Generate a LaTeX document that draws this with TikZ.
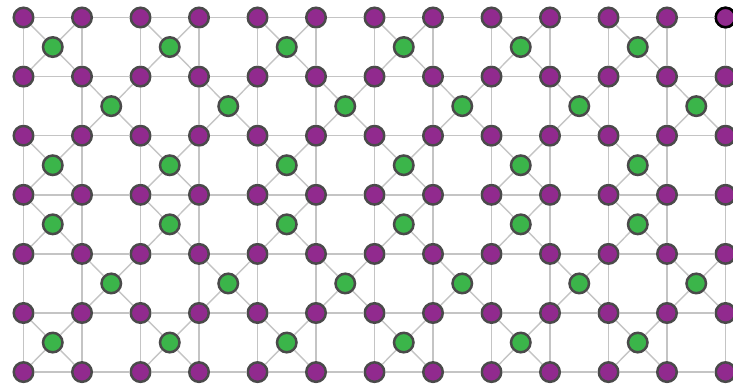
\documentclass[tikz,border=0pt]{standalone}
\definecolor{purp}{HTML}{912A8E}
\definecolor{grn}{HTML}{3BB54A}
\definecolor{nborder}{HTML}{4A4A4A}
\definecolor{edgegray}{HTML}{C4C4C4}
\begin{document}
\begin{tikzpicture}[x=1pt,y=1pt,
  pnode/.style={circle,draw=nborder,line width=2.5pt,fill=purp,minimum size=19.5pt,inner sep=0pt},
  gnode/.style={circle,draw=nborder,line width=2.5pt,fill=grn,minimum size=19.5pt,inner sep=0pt},
  link/.style={draw=edgegray,line width=1.4pt}]
\useasboundingbox (0,0) rectangle (733,-386);
% purple lattice
\foreach \i in {0,...,12} {
  \foreach \j in {0,...,6} {
    \node[pnode] (p-\i-\j) at ({23.5+58.5*\i},{-17.5-59.1*\j}) {};
  }
}
\node[pnode,draw=black] at (p-12-0) {};
% grid edges
\foreach \i in {0,...,11} {
  \foreach \j in {0,...,6} {
    \pgfmathtruncatemacro{\ni}{\i+1}
    \draw[link] (p-\i-\j) -- (p-\ni-\j);
  }
}
\foreach \i in {0,...,12} {
  \foreach \j in {0,...,5} {
    \pgfmathtruncatemacro{\nj}{\j+1}
    \draw[link] (p-\i-\j) -- (p-\i-\nj);
  }
}
% green nodes, even columns
\foreach \j in {0,2,3,5} {
  \foreach \i in {0,2,...,10} {
    \pgfmathtruncatemacro{\ni}{\i+1}
    \pgfmathtruncatemacro{\nj}{\j+1}
    \node[gnode] (g-\i-\j) at ({23.5+58.5*(\i+0.5)},{-17.5-59.1*(\j+0.5)}) {};
    \draw[link] (g-\i-\j) -- (p-\i-\j);
    \draw[link] (g-\i-\j) -- (p-\ni-\j);
    \draw[link] (g-\i-\j) -- (p-\i-\nj);
    \draw[link] (g-\i-\j) -- (p-\ni-\nj);
  }
}
% green nodes, odd columns
\foreach \j in {1,4} {
  \foreach \i in {1,3,...,11} {
    \pgfmathtruncatemacro{\ni}{\i+1}
    \pgfmathtruncatemacro{\nj}{\j+1}
    \node[gnode] (g-\i-\j) at ({23.5+58.5*(\i+0.5)},{-17.5-59.1*(\j+0.5)}) {};
    \draw[link] (g-\i-\j) -- (p-\i-\j);
    \draw[link] (g-\i-\j) -- (p-\ni-\j);
    \draw[link] (g-\i-\j) -- (p-\i-\nj);
    \draw[link] (g-\i-\j) -- (p-\ni-\nj);
  }
}
\end{tikzpicture}
\end{document}
